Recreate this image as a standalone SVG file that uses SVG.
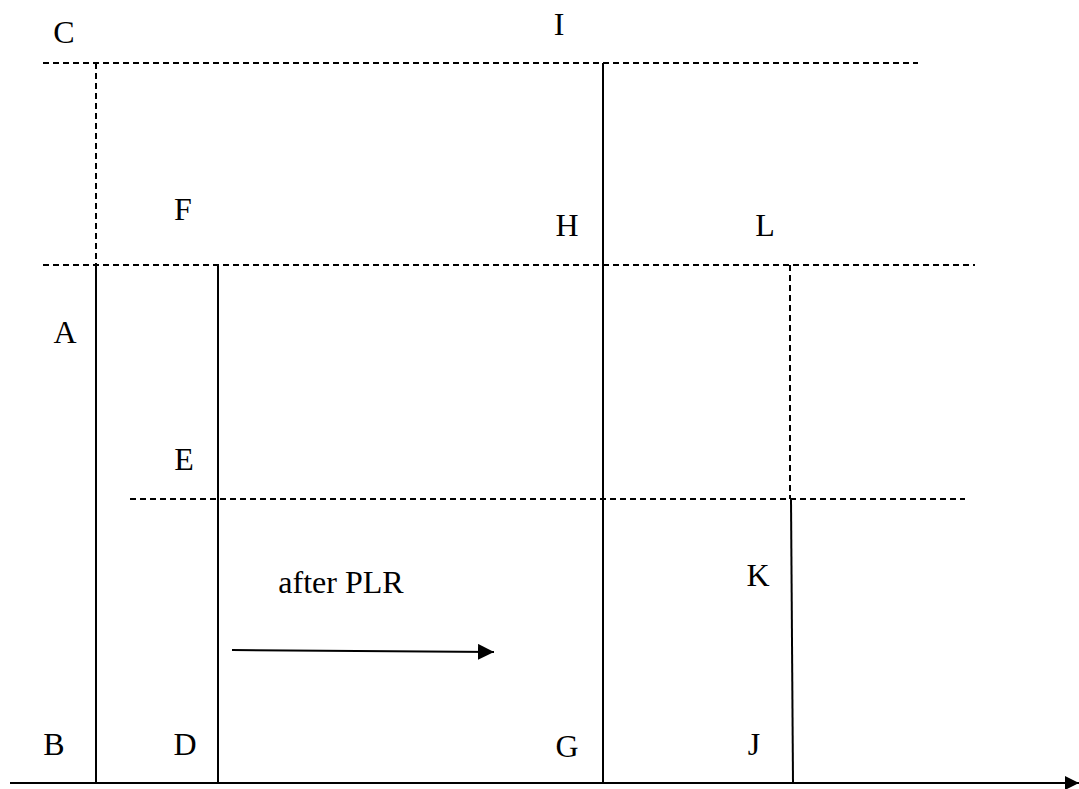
<svg xmlns="http://www.w3.org/2000/svg" width="1079" height="789" viewBox="0 0 1079 789">
  <defs>
    <style>
      .solid { stroke: #000; stroke-width: 2; fill: none; }
      .dash { stroke: #000; stroke-width: 2; fill: none; stroke-dasharray: 6 4; }
      .lbl { font-size: 32px; fill: #000; text-anchor: middle; }
    </style>
    <marker id="head" viewBox="0 0 14 14" refX="14" refY="7" markerWidth="14" markerHeight="14" markerUnits="userSpaceOnUse" orient="auto">
      <path d="M0,0 L14,7 L0,14 Z" fill="#000"/>
    </marker>
    <marker id="head2" viewBox="0 0 16 16" refX="16" refY="8" markerWidth="16" markerHeight="16" markerUnits="userSpaceOnUse" orient="auto">
      <path d="M0,0 L16,8 L0,16 Z" fill="#000"/>
    </marker>
  </defs>

  <g id="connectors">
    <!-- horizontal reference levels -->
    <line class="dash" x1="43" y1="63" x2="918" y2="63"/>
    <line class="dash" x1="43" y1="265" x2="975" y2="265"/>
    <line class="dash" x1="130" y1="499" x2="965" y2="499"/>
    <!-- time axis -->
    <line class="solid" x1="10" y1="783" x2="1079" y2="783" marker-end="url(#head)"/>
    <!-- A-B / C column -->
    <line class="dash" x1="96" y1="63" x2="96" y2="265"/>
    <line class="solid" x1="96" y1="265" x2="96" y2="783"/>
    <!-- F-D column -->
    <line class="solid" x1="218" y1="265" x2="218" y2="783"/>
    <!-- I-G column -->
    <line class="solid" x1="603" y1="63" x2="603" y2="783"/>
    <!-- L-K-J column -->
    <line class="dash" x1="790" y1="265" x2="790" y2="499"/>
    <line class="solid" x1="791" y1="499" x2="793" y2="783"/>
    <!-- transition arrow -->
    <line class="solid" x1="232" y1="650" x2="494" y2="652" marker-end="url(#head2)"/>
  </g>

  <g id="labels" font-family="'Liberation Serif', 'Times New Roman', Times, serif">
    <g id="label-C"><text class="lbl" x="64" y="43">C</text></g>
    <g id="label-I"><text class="lbl" x="559" y="35">I</text></g>
    <g id="label-F"><text class="lbl" x="183" y="220">F</text></g>
    <g id="label-H"><text class="lbl" x="567" y="236">H</text></g>
    <g id="label-L"><text class="lbl" x="765" y="236">L</text></g>
    <g id="label-A"><text class="lbl" x="65" y="343">A</text></g>
    <g id="label-E"><text class="lbl" x="184" y="470">E</text></g>
    <g id="label-K"><text class="lbl" x="758" y="586">K</text></g>
    <g id="label-after"><text class="lbl" x="341" y="593">after PLR</text></g>
    <g id="label-B"><text class="lbl" x="54" y="755">B</text></g>
    <g id="label-D"><text class="lbl" x="185" y="755">D</text></g>
    <g id="label-G"><text class="lbl" x="567" y="757">G</text></g>
    <g id="label-J"><text class="lbl" x="754" y="755">J</text></g>
  </g>
</svg>
